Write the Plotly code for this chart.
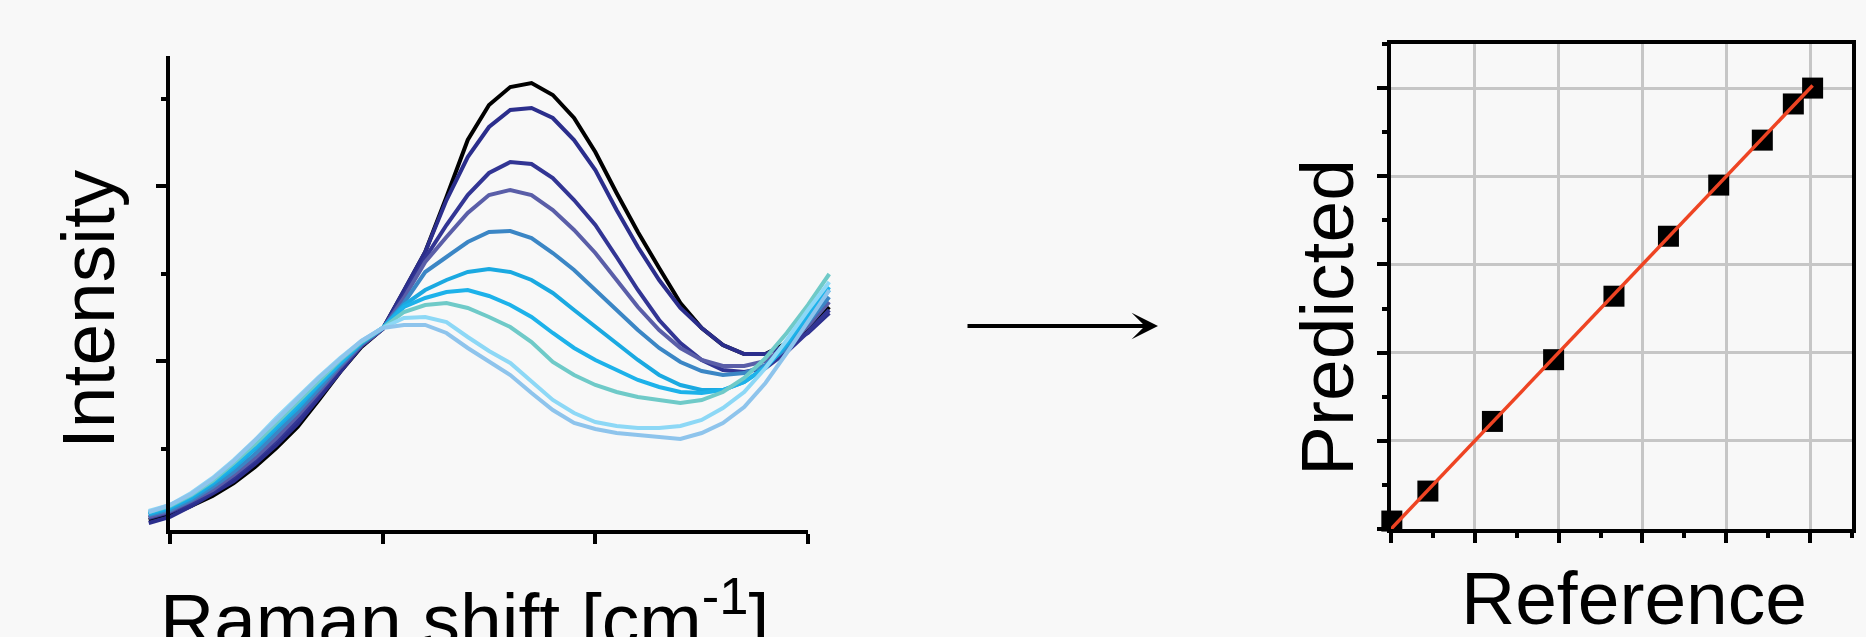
import plotly.graph_objects as go

# ---------------- data ----------------
raman_shift = [1390, 1400, 1410, 1420, 1430, 1440, 1450, 1460, 1470, 1480, 1490,
               1500, 1510, 1520, 1530, 1540, 1550, 1560, 1570, 1580, 1590, 1600,
               1610, 1620, 1630, 1640, 1650, 1660, 1670, 1680, 1690, 1700, 1710]

spec_01 = [10, 15, 24, 34, 47, 63, 82, 103, 130, 158, 183, 201, 239, 278, 333, 390, 425,
           443, 447, 435, 412, 378, 337, 298, 262, 227, 202, 185, 176, 176, 187, 200, 223]
spec_02 = [7, 13, 24, 36, 49, 66, 85, 106, 132, 159, 184, 201, 239, 278, 330, 373, 403,
           420, 422, 412, 390, 360, 320, 283, 250, 222, 202, 185, 176, 176, 185, 197, 217]
spec_03 = [12, 18, 27, 38, 53, 70, 90, 110, 136, 162, 184, 201, 235, 272, 305, 335, 357,
           368, 366, 352, 330, 305, 273, 240, 210, 187, 170, 160, 158, 162, 178, 198, 220]
spec_04 = [13, 19, 29, 40, 55, 72, 92, 114, 138, 163, 185, 201, 232, 268, 293, 317, 335,
           340, 335, 320, 300, 277, 250, 223, 200, 182, 170, 164, 164, 169, 184, 204, 228]
spec_05 = [15, 20, 30, 43, 58, 76, 97, 118, 141, 165, 186, 202, 227, 258, 273, 288, 298,
           299, 292, 277, 260, 240, 220, 200, 182, 168, 159, 155, 157, 165, 182, 207, 233]
spec_06 = [16, 22, 32, 46, 62, 81, 102, 122, 145, 167, 187, 202, 225, 240, 250, 258, 261,
           258, 250, 237, 220, 203, 187, 170, 155, 145, 140, 140, 148, 162, 185, 213, 240]
spec_07 = [17, 23, 34, 48, 64, 83, 104, 125, 147, 168, 188, 202, 223, 232, 238, 240, 234,
           225, 213, 197, 182, 170, 160, 150, 143, 138, 137, 140, 148, 163, 187, 215, 243]
spec_08 = [18, 24, 35, 49, 67, 86, 107, 128, 150, 170, 188, 202, 218, 225, 227, 222, 213,
           203, 188, 168, 155, 145, 138, 133, 130, 127, 130, 138, 152, 172, 197, 225, 256]
spec_09 = [19, 25, 37, 52, 70, 90, 112, 133, 153, 172, 189, 202, 212, 213, 208, 193, 179,
           167, 148, 130, 117, 108, 104, 102, 102, 104, 110, 122, 138, 162, 190, 220, 248]
spec_10 = [18, 25, 36, 51, 69, 89, 110, 131, 152, 171, 189, 202, 205, 205, 197, 182, 169,
           155, 137, 120, 107, 101, 97, 95, 93, 91, 97, 107, 123, 147, 177, 208, 240]

spectra = [spec_01, spec_02, spec_03, spec_04, spec_05,
           spec_06, spec_07, spec_08, spec_09, spec_10]
spectrum_colors = ["#000000", "#2b2e8c", "#323594", "#5a5ea8", "#3b86c5",
                   "#1aa9e1", "#1db2ea", "#6fcac8", "#8dd8f6", "#8ec4ec"]

raman_ticks = [1400, 1500, 1600, 1700]

reference_vals = [0.01, 0.44, 1.21, 1.94, 2.66, 3.31, 3.91, 4.43, 4.80, 5.03]
predicted_vals = [0.09, 0.43, 1.22, 1.92, 2.64, 3.32, 3.90, 4.41, 4.82, 5.00]
identity_line = [0.0, 5.03]

# ---------------- layout helpers (pixels -> paper) ----------------
W, H = 1866, 637
BG = "#f8f8f8"
FONT = "Liberation Sans, Arial, sans-serif"


def px(xp):
    return xp / W


def py(yp):
    return 1 - yp / H


# left spectra panel geometry
AX_L, AX_R = 170, 808       # visible x axis extent (px)
AX_B, AX_T = 530, 56        # visible y axis extent (px)
DATA_L, DATA_R = 140, 845   # drawing area for the spectra (lines run past the axes)
y_range = [0, 474]
scale = (raman_ticks[-1] - raman_ticks[0]) / (AX_R - AX_L)
data_xrange = [raman_ticks[0] - (AX_L - DATA_L) * scale,
               raman_ticks[-1] + (DATA_R - AX_R) * scale]

# right parity panel geometry
R_L, R_R, R_T, R_B = 1391, 1852, 44, 529

fig = go.Figure()

# empty trace so the visible axis pair of the spectra panel is created
fig.add_trace(go.Scatter(x=[], y=[], mode="lines", xaxis="x2", yaxis="y2",
                         showlegend=False, hoverinfo="skip"))

for spec, col in zip(spectra, spectrum_colors):
    fig.add_trace(go.Scatter(x=raman_shift, y=spec, mode="lines",
                             line=dict(color=col, width=4),
                             xaxis="x", yaxis="y", showlegend=False,
                             hoverinfo="skip"))

fig.add_trace(go.Scatter(x=reference_vals, y=predicted_vals, mode="markers",
                         marker=dict(symbol="square", size=21, color="black"),
                         xaxis="x3", yaxis="y3", cliponaxis=False,
                         showlegend=False))
fig.add_trace(go.Scatter(x=identity_line, y=identity_line, mode="lines",
                         line=dict(color="#ee4423", width=3.5),
                         xaxis="x3", yaxis="y3", cliponaxis=False,
                         showlegend=False))

hidden = dict(visible=False, showgrid=False, zeroline=False)
common = dict(showgrid=False, zeroline=False, showticklabels=False,
              linecolor="black", tickcolor="black")

LW = 3.5

fig.update_layout(
    width=W, height=H,
    margin=dict(l=0, r=0, t=0, b=0),
    paper_bgcolor=BG, plot_bgcolor="rgba(0,0,0,0)",
    font=dict(family=FONT, color="black"),
    showlegend=False,
    # data subplot for spectra (invisible axes, wider area)
    xaxis=dict(domain=[px(DATA_L), px(DATA_R)], range=data_xrange, anchor="y", **hidden),
    yaxis=dict(domain=[py(AX_B), py(AX_T)], range=y_range, anchor="x", **hidden),
    # visible axes of the spectra panel
    xaxis2=dict(domain=[px(AX_L), px(AX_R)], range=[raman_ticks[0], raman_ticks[-1]],
                anchor="y2", showline=True, linewidth=LW, ticks="outside",
                ticklen=10, tickwidth=LW, tickvals=raman_ticks, **common),
    yaxis2=dict(domain=[py(AX_B), py(AX_T)], range=y_range, anchor="x2",
                showline=True, linewidth=LW, ticks="outside", ticklen=10, tickwidth=LW,
                tick0=169, dtick=175,
                minor=dict(ticks="outside", ticklen=5, tickwidth=LW, tickcolor="black",
                           tick0=81.5, dtick=87.5, showgrid=False),
                **common),
    # parity panel
    xaxis3=dict(domain=[px(R_L), px(R_R)], range=[0, 5.5], anchor="y3",
                showline=True, mirror=True, linewidth=LW, linecolor="black",
                ticks="outside", ticklen=10, tickwidth=LW, tickcolor="black",
                tick0=0, dtick=1,
                minor=dict(ticks="outside", ticklen=5, tickwidth=LW, tickcolor="black",
                           tick0=0.5, dtick=1, showgrid=False),
                showgrid=True, gridcolor="#c6c6c6", gridwidth=3,
                zeroline=False, showticklabels=False),
    yaxis3=dict(domain=[py(R_B), py(R_T)], range=[0, 5.5], anchor="x3",
                showline=True, mirror=True, linewidth=LW, linecolor="black",
                ticks="outside", ticklen=10, tickwidth=LW, tickcolor="black",
                tick0=0, dtick=1,
                minor=dict(ticks="outside", ticklen=5, tickwidth=LW, tickcolor="black",
                           tick0=0.5, dtick=1, showgrid=False),
                showgrid=True, gridcolor="#c6c6c6", gridwidth=3,
                zeroline=False, showticklabels=False),
    xaxis4=dict(overlaying="x3", side="top", anchor="y3", range=[0, 5.5],
                ticks="inside", ticklen=10, tickwidth=LW, tickcolor="black",
                tick0=0, dtick=1,
                minor=dict(ticks="inside", ticklen=5, tickwidth=LW, tickcolor="black",
                           tick0=0.5, dtick=1, showgrid=False),
                showgrid=False, zeroline=False, showline=False, showticklabels=False),
    yaxis4=dict(overlaying="y3", side="right", anchor="x3", range=[0, 5.5],
                ticks="inside", ticklen=10, tickwidth=LW, tickcolor="black",
                tick0=0, dtick=1,
                minor=dict(ticks="inside", ticklen=5, tickwidth=LW, tickcolor="black",
                           tick0=0.5, dtick=1, showgrid=False),
                showgrid=False, zeroline=False, showline=False, showticklabels=False),
)

ann_font = dict(family=FONT, size=75, color="black")
fig.add_annotation(text="Intensity", x=px(88), y=py(309), xref="paper", yref="paper",
                   textangle=-90, showarrow=False, xanchor="center", yanchor="middle",
                   font=ann_font)
fig.add_annotation(text="Raman shift [cm<sup>-1</sup>]", x=px(464), y=py(664),
                   xref="paper", yref="paper", showarrow=False,
                   xanchor="center", yanchor="bottom", font=ann_font)
fig.add_annotation(text="Predicted", x=px(1327), y=py(318), xref="paper", yref="paper",
                   textangle=-90, showarrow=False, xanchor="center", yanchor="middle",
                   font=ann_font)
fig.add_annotation(text="Reference", x=px(1634), y=py(598), xref="paper", yref="paper",
                   showarrow=False, xanchor="center", yanchor="middle", font=ann_font)
fig.add_annotation(text="", x=px(1158), y=py(326), xref="paper", yref="paper",
                   ax=-192, ay=0, axref="pixel", ayref="pixel",
                   showarrow=True, arrowhead=3, arrowsize=1.1, arrowwidth=4,
                   arrowcolor="black")

fig.write_html("out.html", config={"displayModeBar": False},
               post_script="document.body.style.margin='0px';"
                           "document.body.style.overflow='hidden';")
